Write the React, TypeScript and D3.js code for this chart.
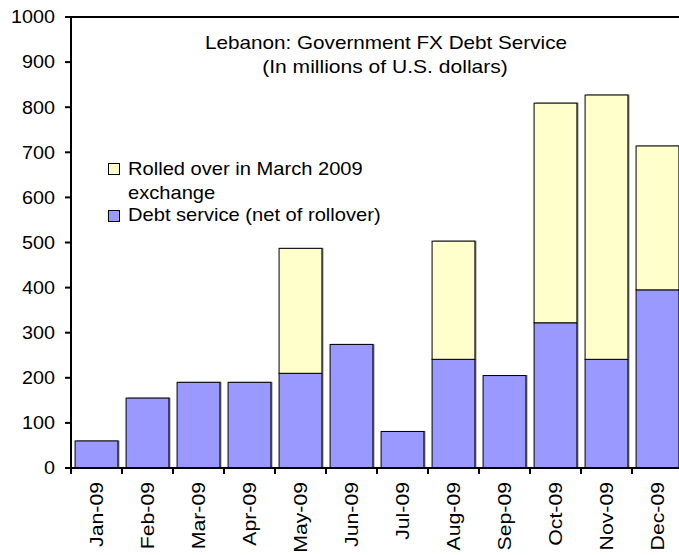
import React from "react";
import * as d3 from "d3";

const months = ["Jan-09", "Feb-09", "Mar-09", "Apr-09", "May-09", "Jun-09", "Jul-09", "Aug-09", "Sep-09", "Oct-09", "Nov-09", "Dec-09"];
const debtService = [60, 155, 190, 190, 210, 274, 81, 241, 205, 322, 241, 395];
const rolledOver = [0, 0, 0, 0, 277, 0, 0, 262, 0, 487, 586, 319];
const yTicks = [0, 100, 200, 300, 400, 500, 600, 700, 800, 900, 1000];
const seriesNames = ["Rolled over in March 2009", "exchange", "Debt service (net of rollover)"];
const titleLines = ["Lebanon: Government FX Debt Service", "(In millions of U.S. dollars)"];

const W = 679;
const H = 555;
const left = 71;
const right = 683;
const top = 17;
const bottom = 468;
const BLUE = "#9999FF";
const YELLOW = "#FFFFCC";
const FONT = "'Liberation Sans', Arial, sans-serif";

export default function App() {
  const x = d3.scaleBand<string>().domain(months).range([left, right]).paddingInner(0.16).paddingOuter(0.08);
  const y = d3.scaleLinear().domain([0, 1000]).range([bottom, top]);
  const step = x.step();
  const stacked = d3.stack<number>().keys(["debt", "rolled"]).value((i, k) => (k === "debt" ? debtService[i] : rolledOver[i]))(months.map((_, i) => i));
  const colors = [BLUE, YELLOW];

  return (
    <svg width={W} height={H} style={{ position: "absolute", left: 0, top: 0, background: "#fff" }} fontFamily={FONT}>
      {/* bars */}
      {stacked.map((layer, li) =>
        layer.map((d, i) => {
          const v = d[1] - d[0];
          if (v <= 0) return null;
          const bx = x(months[i])!;
          const by = y(d[1]);
          const bh = y(d[0]) - y(d[1]);
          return (
            <g key={`${li}-${i}`}>
              <rect x={bx + 1.5} y={by - 0.5} width={x.bandwidth()} height={bh} fill="#777" />
              <rect x={bx} y={by} width={x.bandwidth()} height={bh} fill={colors[li]} stroke="#000" strokeWidth={1} />
            </g>
          );
        })
      )}
      {/* axes */}
      <line x1={left - 6} x2={W + 10} y1={top} y2={top} stroke="#000" strokeWidth={2} />
      <line x1={left} x2={left} y1={top} y2={bottom + 6} stroke="#000" strokeWidth={2} />
      <line x1={left} x2={W + 10} y1={bottom} y2={bottom} stroke="#000" strokeWidth={2} />
      {yTicks.map((t) => (
        <g key={t}>
          <line x1={left - 6} x2={left} y1={y(t)} y2={y(t)} stroke="#000" strokeWidth={2} />
          <text transform={`translate(${left - 16},${y(t) + 6.3}) scale(1.13,1)`} textAnchor="end" fontSize={17.5} fill="#000">
            {t}
          </text>
        </g>
      ))}
      {months.map((m, i) => (
        <g key={m}>
          <line x1={left + (i + 1) * step} x2={left + (i + 1) * step} y1={bottom} y2={bottom + 6} stroke="#000" strokeWidth={2} />
          <text
            transform={`translate(${x(m)! + x.bandwidth() / 2 + 6},${bottom + 14}) rotate(-90) scale(1.18,1)`}
            textAnchor="end"
            fontSize={18}
            fill="#000"
          >
            {m}
          </text>
        </g>
      ))}
      {/* title */}
      <text transform={`translate(386,49) scale(1.15,1)`} textAnchor="middle" fontSize={18} fill="#000">
        {titleLines[0]}
      </text>
      <text transform={`translate(385,73) scale(1.17,1)`} textAnchor="middle" fontSize={18} fill="#000">
        {titleLines[1]}
      </text>
      {/* legend */}
      <rect x={108.5} y={163.5} width={11} height={11} fill={YELLOW} stroke="#000" strokeWidth={1} />
      <text transform={`translate(128,175) scale(1.15,1)`} fontSize={17.5} fill="#000">{seriesNames[0]}</text>
      <text transform={`translate(128,199) scale(1.15,1)`} fontSize={17.5} fill="#000">{seriesNames[1]}</text>
      <rect x={108.5} y={210.5} width={11} height={11} fill={BLUE} stroke="#000" strokeWidth={1} />
      <text transform={`translate(128,221) scale(1.15,1)`} fontSize={17.5} fill="#000">{seriesNames[2]}</text>
    </svg>
  );
}
